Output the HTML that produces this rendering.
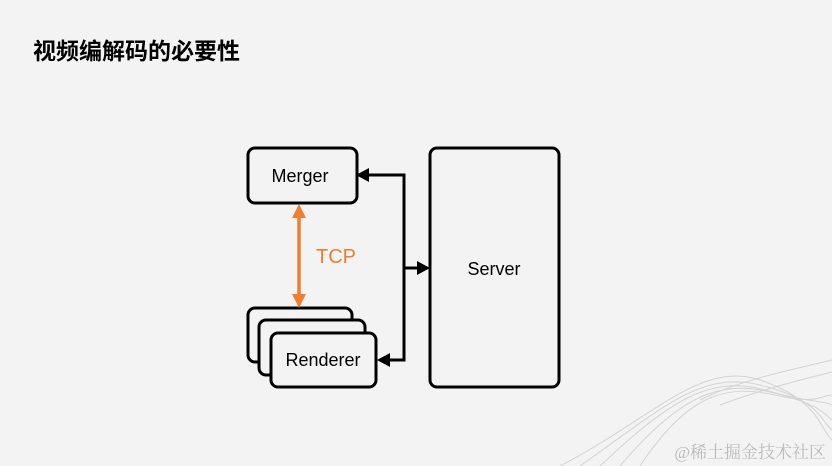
<!DOCTYPE html>
<html><head><meta charset="utf-8"><style>
body{margin:0;width:832px;height:466px;background:#f3f3f3;overflow:hidden;position:relative;font-family:"Liberation Sans","Noto Sans CJK SC",sans-serif}
.t{position:absolute;left:33px;top:32px;font-size:23px;font-weight:bold;color:#000}
</style></head><body>
<div class="t">视频编解码的必要性</div>
<svg width="832" height="466" style="position:absolute;left:0;top:0">
<g fill="none" stroke="#ccc" stroke-width="1" opacity="0.8">
<path d="M560 466 C650 420 700 360 760 380 S820 430 832 440"/>
<path d="M580 466 C660 410 700 370 760 385 S820 420 832 430"/>
<path d="M600 466 C670 400 710 375 765 390 S820 410 832 420"/>
<path d="M620 466 C680 395 720 380 770 392 S820 400 832 405"/>
<path d="M640 466 C690 390 730 385 775 395 S820 395 832 395"/>
<path d="M700 400 C740 380 790 370 832 360"/>
<path d="M720 405 C760 390 800 380 832 372"/>
</g>
<g fill="#f3f3f3" stroke="#000" stroke-width="3">
<rect x="248" y="148" width="109" height="55" rx="7"/>
<rect x="430" y="148" width="129" height="239" rx="7"/>
<rect x="248" y="308" width="104" height="54" rx="7"/>
<rect x="259" y="320" width="106" height="55" rx="7"/>
<rect x="271" y="333" width="105" height="54" rx="7"/>
</g>
<g stroke="#000" stroke-width="3" fill="none">
<path d="M364 175 H404 V360 H383"/>
<path d="M404 268 H420"/>
</g>
<g fill="#000">
<path d="M356 175 L369 168 L369 182Z"/>
<path d="M430 268 L417 261 L417 275Z"/>
<path d="M377 360 L390 353 L390 367Z"/>
</g>
<path d="M299 214 V298" stroke="#ee7f30" stroke-width="3.5"/>
<path d="M299 204 L292 218 L306 218Z M299 308 L292 294 L306 294Z" fill="#ee7f30"/>
<g font-family="Liberation Sans,sans-serif" font-size="18" fill="#000" text-anchor="middle">
<text x="300" y="182">Merger</text>
<text x="494" y="275">Server</text>
<text x="323" y="366">Renderer</text>
</g>
<text x="316" y="263" font-family="Liberation Sans,sans-serif" font-size="20" fill="#ee7f30">TCP</text>
<text x="826" y="458" text-anchor="end" font-family="Liberation Serif,Noto Serif CJK SC,serif" font-size="17" fill="#bbb">@稀土掘金技术社区</text>
</svg>
</body></html>
